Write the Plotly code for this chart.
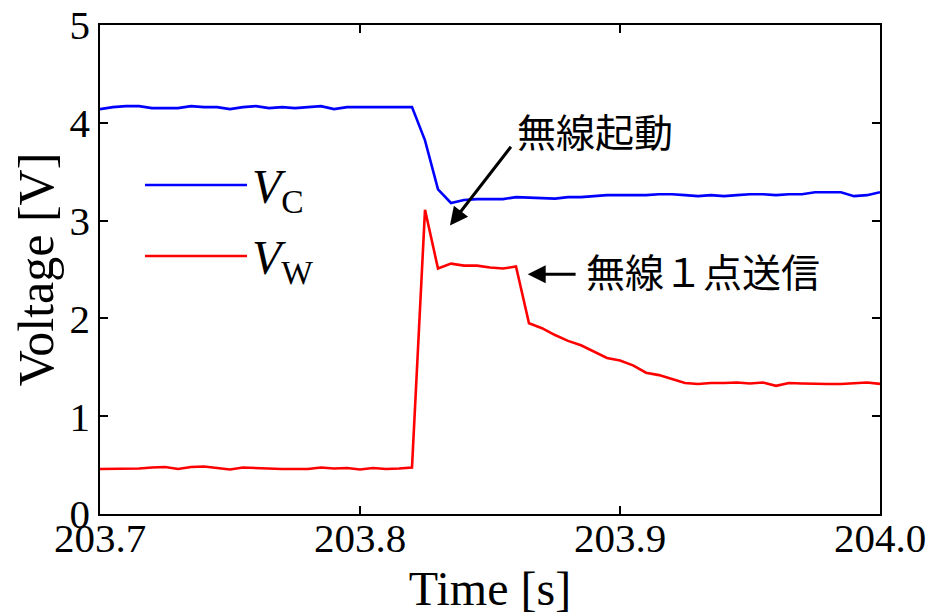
import plotly.graph_objects as go

time_s = [
    203.700, 203.705, 203.710, 203.715, 203.720, 203.725, 203.730, 203.735, 203.740, 203.745,
    203.750, 203.755, 203.760, 203.765, 203.770, 203.775, 203.780, 203.785, 203.790, 203.795,
    203.800, 203.805, 203.810, 203.815, 203.820, 203.825, 203.830, 203.835, 203.840, 203.845,
    203.850, 203.855, 203.860, 203.865, 203.870, 203.875, 203.880, 203.885, 203.890, 203.895,
    203.900, 203.905, 203.910, 203.915, 203.920, 203.925, 203.930, 203.935, 203.940, 203.945,
    203.950, 203.955, 203.960, 203.965, 203.970, 203.975, 203.980, 203.985, 203.990, 203.995,
    204.000,
]

v_c = [
    4.14, 4.16, 4.17, 4.17, 4.15, 4.15, 4.15, 4.17, 4.16, 4.16,
    4.14, 4.16, 4.17, 4.15, 4.16, 4.15, 4.16, 4.17, 4.14, 4.16,
    4.16, 4.16, 4.16, 4.16, 4.16, 3.82, 3.32, 3.18, 3.21, 3.22,
    3.22, 3.22, 3.24, 3.235, 3.235, 3.225, 3.24, 3.24, 3.25, 3.26,
    3.26, 3.26, 3.26, 3.27, 3.27, 3.26, 3.25, 3.26, 3.25, 3.26,
    3.27, 3.27, 3.26, 3.27, 3.27, 3.29, 3.29, 3.29, 3.25, 3.26,
    3.29,
]

v_w = [
    0.46, 0.46, 0.465, 0.465, 0.475, 0.48, 0.46, 0.48, 0.485, 0.47,
    0.455, 0.475, 0.47, 0.46, 0.46, 0.46, 0.46, 0.475, 0.465, 0.47,
    0.455, 0.47, 0.46, 0.465, 0.475, 3.11, 2.51, 2.56, 2.54, 2.54,
    2.52, 2.51, 2.53, 1.95, 1.90, 1.83, 1.77, 1.725, 1.66, 1.595,
    1.57, 1.52, 1.445, 1.42, 1.38, 1.34, 1.33, 1.34, 1.34, 1.345,
    1.335, 1.345, 1.31, 1.34, 1.335, 1.33, 1.33, 1.33, 1.335, 1.345,
    1.33,
]

x_ticks = [203.7, 203.8, 203.9, 204.0]
x_tick_labels = ["203.7", "203.8", "203.9", "204.0"]
y_ticks = [0, 1, 2, 3, 4, 5]

series_names = ["<i>V</i><sub>C</sub>", "<i>V</i><sub>W</sub>"]
series_colors = ["#0000ff", "#ff0000"]

label_start = "無線起動"
label_send = "無線１点送信"

SERIF = "Liberation Serif, Times New Roman, serif"
CJK = "Noto Sans CJK JP, sans-serif"

fig = go.Figure()
for vals, name, col in zip([v_c, v_w], series_names, series_colors):
    fig.add_trace(go.Scatter(x=time_s, y=vals, mode="lines", name=name,
                             line=dict(color=col, width=2.6), showlegend=False))

# page body has an 8px margin, so the figure is shrunk to fit the 935x615 window
W, H = 927, 607
ml, mr, mt, mb = 92, 55, 17, 101

# screen-pixel plot box (left 100, right 880, top 25, bottom 514)
SL, SR, ST, SB = 100, 880, 25, 514


def px(x):
    return (x - SL) / (SR - SL)


def py(y):
    return (SB - y) / (SB - ST)


# manual legend
legend_rows = [185, 256]
for row, name, col in zip(legend_rows, series_names, series_colors):
    fig.add_shape(type="line", xref="paper", yref="paper",
                  x0=px(145), x1=px(247), y0=py(row), y1=py(row),
                  line=dict(color=col, width=2.6))
    fig.add_annotation(xref="paper", yref="paper", x=px(250), y=py(row + 5),
                       text=name, showarrow=False, xanchor="left", yanchor="middle",
                       font=dict(family=SERIF, size=48, color="black"))

# annotation texts and arrows
fig.add_annotation(x=203.8346, y=2.95, ax=203.8585, ay=3.77, axref="x", ayref="y",
                   xref="x", yref="y", text="", showarrow=True, arrowhead=2,
                   arrowsize=1.2, arrowwidth=3, arrowcolor="black")
fig.add_annotation(x=203.7 + (515 - 100) / 2600, y=(513.5 - 130) / 97.7, xref="x", yref="y",
                   text=label_start, showarrow=False, xanchor="left", yanchor="middle",
                   font=dict(family=CJK, size=39, color="black"))

fig.add_annotation(x=203.8645, y=(513.5 - 274) / 97.7, ax=203.8835, ay=(513.5 - 274) / 97.7,
                   axref="x", ayref="y", xref="x", yref="y", text="", showarrow=True,
                   arrowhead=2, arrowsize=1.2, arrowwidth=3, arrowcolor="black")
fig.add_annotation(x=203.7 + (584 - 100) / 2600, y=(513.5 - 270) / 97.7, xref="x", yref="y",
                   text=label_send, showarrow=False, xanchor="left", yanchor="middle",
                   font=dict(family=CJK, size=39, color="black"))

axis_common = dict(showline=True, linecolor="black", linewidth=1.5, mirror="ticks",
                   ticks="inside", ticklen=8, tickwidth=1.5, tickcolor="black",
                   showgrid=False, zeroline=False, ticklabeloverflow="allow",
                   tickfont=dict(family=SERIF, size=41, color="black"))

fig.update_xaxes(range=[203.7, 204.0], tickvals=x_ticks, ticktext=x_tick_labels,
                 ticklabelstandoff=-13,
                 title=dict(text="Time [s]", font=dict(family=SERIF, size=48, color="black"),
                            standoff=14),
                 automargin=False, **axis_common)
fig.update_yaxes(range=[0, 5], tickvals=y_ticks,
                 title=dict(text="Voltage [V]", font=dict(family=SERIF, size=50, color="black"),
                            standoff=5),
                 automargin=False, **axis_common)

fig.update_layout(width=W, height=H, margin=dict(l=ml, r=mr, t=mt, b=mb),
                  plot_bgcolor="white", paper_bgcolor="white", showlegend=False)

fig.write_html("out.html")
